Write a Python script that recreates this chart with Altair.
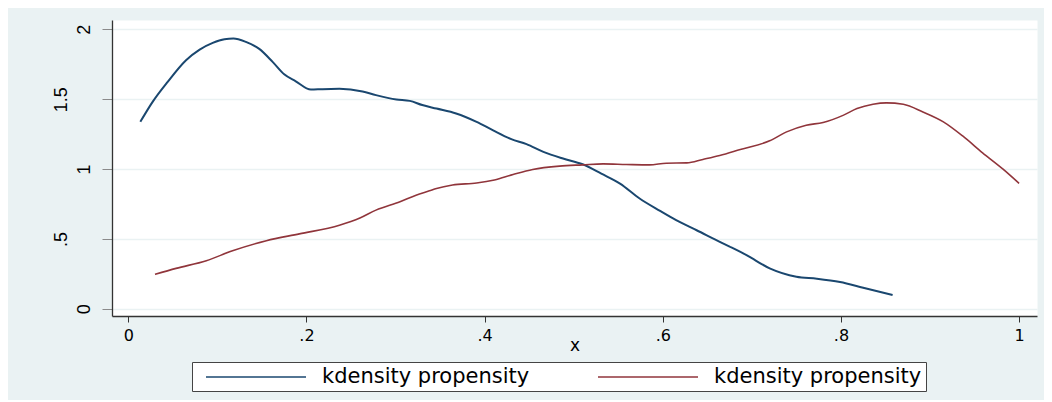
import altair as alt
import pandas as pd

# ---- data ----
blue_x = [0.0135, 0.0273, 0.0442, 0.0648, 0.0801, 0.0948, 0.108, 0.118, 0.132, 0.147,
          0.162, 0.175, 0.188, 0.205, 0.218, 0.237, 0.263, 0.278, 0.301, 0.316,
          0.330, 0.346, 0.368, 0.391, 0.409, 0.430, 0.447, 0.466, 0.488, 0.510,
          0.531, 0.552, 0.574, 0.597, 0.615, 0.638, 0.664, 0.675, 0.694, 0.720,
          0.750, 0.773, 0.799, 0.825, 0.858]
blue_y = [1.338, 1.481, 1.624, 1.779, 1.855, 1.903, 1.929, 1.934, 1.910, 1.860,
          1.767, 1.678, 1.628, 1.569, 1.572, 1.574, 1.555, 1.529, 1.498, 1.488,
          1.458, 1.433, 1.398, 1.338, 1.279, 1.214, 1.178, 1.123, 1.075, 1.034,
          0.967, 0.896, 0.789, 0.700, 0.634, 0.562, 0.479, 0.445, 0.384, 0.289,
          0.229, 0.215, 0.191, 0.150, 0.098]

red_x = [0.030, 0.0536, 0.0876, 0.117, 0.155, 0.192, 0.237, 0.260, 0.278, 0.305,
         0.323, 0.338, 0.346, 0.364, 0.391, 0.411, 0.432, 0.454, 0.484, 0.510,
         0.533, 0.559, 0.585, 0.604, 0.627, 0.645, 0.664, 0.687, 0.720, 0.739,
         0.761, 0.780, 0.803, 0.818, 0.836, 0.851, 0.870, 0.892, 0.915, 0.937,
         0.959, 0.982, 1.000]
red_y = [0.246, 0.289, 0.344, 0.415, 0.487, 0.536, 0.597, 0.649, 0.706, 0.766,
         0.813, 0.844, 0.861, 0.886, 0.900, 0.922, 0.961, 0.997, 1.021, 1.030,
         1.037, 1.033, 1.030, 1.042, 1.044, 1.069, 1.097, 1.140, 1.202, 1.266,
         1.314, 1.333, 1.386, 1.433, 1.464, 1.474, 1.464, 1.409, 1.338, 1.235,
         1.116, 0.999, 0.897]

series_keys = ["1", "2"]
series_names = ["kdensity propensity", "kdensity propensity"]
series_colors = ["#1a476f", "#90353b"]
x_ticks = [0, 0.2, 0.4, 0.6, 0.8, 1]
y_ticks = [0, 0.5, 1, 1.5, 2]
x_title = "x"

df = pd.concat([
    pd.DataFrame({"x": blue_x, "density": blue_y, "series": series_keys[0]}),
    pd.DataFrame({"x": red_x, "density": red_y, "series": series_keys[1]}),
], ignore_index=True)

legend_expr = " : ".join(
    [f"datum.value == '{k}' ? '{n}'" for k, n in zip(series_keys, series_names)]
) + " : datum.label"

nozero = "datum.value > 0 && datum.value < 1 ? substring(datum.label, 1) : datum.label"

chart = alt.Chart(df).mark_line(interpolate="monotone").encode(
    x=alt.X("x:Q",
            scale=alt.Scale(domain=[-0.0183, 1.0201], nice=False, zero=False),
            axis=alt.Axis(values=x_ticks, format="~g", labelExpr=nozero, grid=False,
                          title=x_title, tickSize=6, tickColor="#333333",
                          domainColor="#333333", domainWidth=1.3,
                          labelFont="DejaVu Sans", labelFontSize=16, labelColor="#000000",
                          labelPadding=5, titleFont="DejaVu Sans", titleFontSize=17,
                          titleFontWeight="normal", titleColor="#000000",
                          titleBaseline="top", titleY=21)),
    y=alt.Y("density:Q",
            scale=alt.Scale(domain=[-0.052, 2.067], nice=False, zero=False),
            axis=alt.Axis(values=y_ticks, format="~g", labelExpr=nozero, title=None,
                          labelAngle=270, tickSize=10, tickColor="#8a8a8a",
                          domainColor="#333333", domainWidth=1.3,
                          grid=True, gridColor="#eaf2f3", gridWidth=1.6,
                          labelFont="Liberation Sans", labelFontSize=18,
                          labelColor="#000000",
                          labelPadding={"condition": {"test": "datum.value % 1 != 0",
                                                      "value": 32},
                                        "value": 9})),
    color=alt.Color("series:N",
                    scale=alt.Scale(domain=series_keys, range=series_colors),
                    legend=alt.Legend(title=None, orient="none", legendX=80, legendY=342,
                                      direction="horizontal", labelExpr=legend_expr,
                                      symbolType="M-5,0H5", symbolSize=400,
                                      symbolStrokeWidth=1.5, symbolOffset=49,
                                      labelFont="DejaVu Sans", labelFontSize=21,
                                      labelLimit=400,
                                      labelColor="#000000", labelOffset=55,
                                      columnPadding=58, padding=4,
                                      strokeColor="#444444", fillColor="#ffffff")),
    strokeWidth=alt.condition(alt.datum.series == series_keys[0], alt.value(2.0), alt.value(1.6)),
).properties(
    width=925,
    height=296,
    autosize=alt.AutoSizeParams(type="none"),
    padding={"left": 104, "top": 12, "right": 7, "bottom": 84},
    background="#eaf2f3",
).configure_view(
    fill="#ffffff",
    stroke="transparent",
)

chart.save("out.html", embed_options={"renderer": "svg", "actions": False})
